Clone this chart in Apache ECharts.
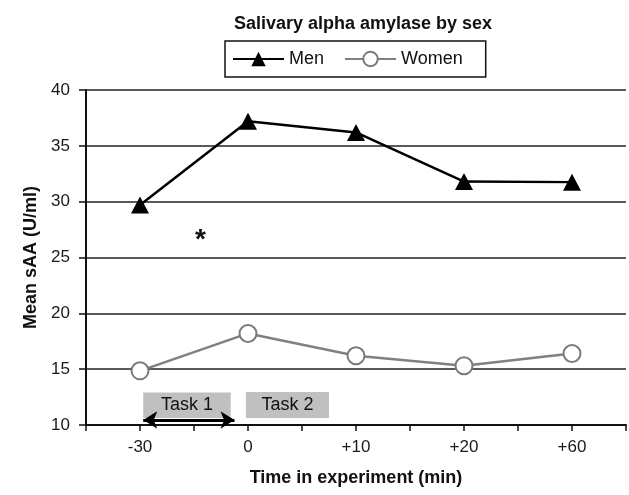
<!DOCTYPE html>
<html>
<head>
<meta charset="utf-8">
<script src="https://cdn.jsdelivr.net/npm/echarts@6/dist/echarts.min.js"></script>
<style>
html,body{margin:0;padding:0;background:#fff;}
#chart{width:629px;height:495px;}
</style>
</head>
<body>
<div id="chart"></div>
<script>
// ---- data ----
const categories = ['-30', '0', '+10', '+20', '+60'];
const menValues = [29.7, 37.2, 36.2, 31.8, 31.75];
const womenValues = [14.85, 18.2, 16.2, 15.3, 16.4];
const yTicks = [10, 15, 20, 25, 30, 35, 40];
// annotations (in axis units: x = category index, y = sAA)
const task1Box = [[0.03, 12.9], [0.84, 10.63]];
const task2Box = [[0.98, 12.96], [1.75, 10.63]];
const taskArrow = [[0.03, 10.45], [0.875, 10.45]];
const asteriskAt = [0.56, 26.55];

const FONT = '"Liberation Sans", Arial, Helvetica, sans-serif';

const chart = echarts.init(document.getElementById('chart'), null, {renderer: 'canvas'});

const toPairs = vals => vals.map((v, i) => [i, v]);

const option = {
  backgroundColor: '#ffffff',
  animation: false,
  textStyle: {fontFamily: FONT},
  title: {
    text: 'Salivary alpha amylase by sex',
    left: 358,
    textAlign: 'center',
    top: 10,
    textStyle: {fontFamily: FONT, fontSize: 18, fontWeight: 'bold', color: '#111'}
  },
  legend: {
    data: ['Men', 'Women'],
    left: 225,
    top: 41,
    orient: 'horizontal',
    itemWidth: 51,
    itemHeight: 18,
    itemGap: 20,
    padding: [9, 23, 9, 7],
    borderColor: '#111',
    borderWidth: 1.5,
    textStyle: {fontFamily: FONT, fontSize: 18, color: '#111'}
  },
  grid: {left: 86, right: 1, top: 90, bottom: 70, containLabel: false},
  xAxis: {
    type: 'value',
    min: -0.5,
    max: 4.5,
    interval: 0.5,
    name: 'Time in experiment (min)',
    nameLocation: 'middle',
    nameGap: 44,
    nameTextStyle: {fontFamily: FONT, fontSize: 18, fontWeight: 'bold', color: '#111'},
    axisLine: {show: true, onZero: false, lineStyle: {color: '#111', width: 2}},
    axisTick: {show: true, length: 6, lineStyle: {color: '#111', width: 1.5}},
    splitLine: {show: false},
    axisLabel: {
      fontFamily: FONT, fontSize: 17, color: '#1a1a1a', margin: 14,
      formatter: v => (Math.abs(v - Math.round(v)) < 1e-9 && categories[Math.round(v)] !== undefined) ? categories[Math.round(v)] : '',
      showMinLabel: true, showMaxLabel: true
    }
  },
  yAxis: {
    type: 'value',
    min: yTicks[0],
    max: yTicks[yTicks.length - 1],
    interval: 5,
    name: 'Mean sAA (U/ml)',
    nameLocation: 'middle',
    nameGap: 42,
    nameTextStyle: {fontFamily: FONT, fontSize: 18, fontWeight: 'bold', color: '#111'},
    axisLine: {show: true, onZero: false, lineStyle: {color: '#111', width: 2}},
    axisTick: {show: true, length: 7, lineStyle: {color: '#111', width: 1.5}},
    axisLabel: {fontFamily: FONT, fontSize: 17, color: '#1a1a1a', margin: 16},
    splitLine: {show: true, lineStyle: {color: '#222', width: 1.5}}
  },
  series: [
    {
      name: 'Men',
      type: 'line',
      data: toPairs(menValues),
      symbol: 'triangle',
      symbolSize: [18, 17],
      lineStyle: {color: '#000', width: 2.5},
      itemStyle: {color: '#000', borderColor: '#000', borderWidth: 0},
      z: 5
    },
    {
      name: 'Women',
      type: 'line',
      data: toPairs(womenValues),
      symbol: 'circle',
      symbolSize: 17,
      showAllSymbol: true,
      lineStyle: {color: '#808080', width: 2.5},
      itemStyle: {color: '#ffffff', borderColor: '#7a7a7a', borderWidth: 2},
      z: 5
    },
    {
      name: 'annotations',
      type: 'line',
      data: [],
      silent: true,
      markArea: {
        silent: true,
        itemStyle: {color: '#c0c0c0'},
        label: {show: true, position: 'inside', fontFamily: FONT, fontSize: 18, color: '#111'},
        data: [
          [{name: 'Task 1', coord: task1Box[0]}, {coord: task1Box[1]}],
          [{name: 'Task 2', coord: task2Box[0]}, {coord: task2Box[1]}]
        ]
      },
      markLine: {
        silent: true,
        symbol: ['arrow', 'arrow'],
        symbolSize: [13, 14],
        lineStyle: {color: '#000', width: 3, type: 'solid'},
        label: {show: false},
        data: [[{coord: taskArrow[0]}, {coord: taskArrow[1]}]]
      },
      markPoint: {
        silent: true,
        symbol: 'circle',
        symbolSize: 1,
        itemStyle: {color: 'rgba(0,0,0,0)'},
        label: {show: true, position: 'inside', formatter: '*', fontFamily: FONT, fontSize: 28, fontWeight: 'bold', color: '#111'},
        data: [{coord: asteriskAt}]
      },
      z: 3
    }
  ]
};

chart.setOption(option);
</script>
</body>
</html>
